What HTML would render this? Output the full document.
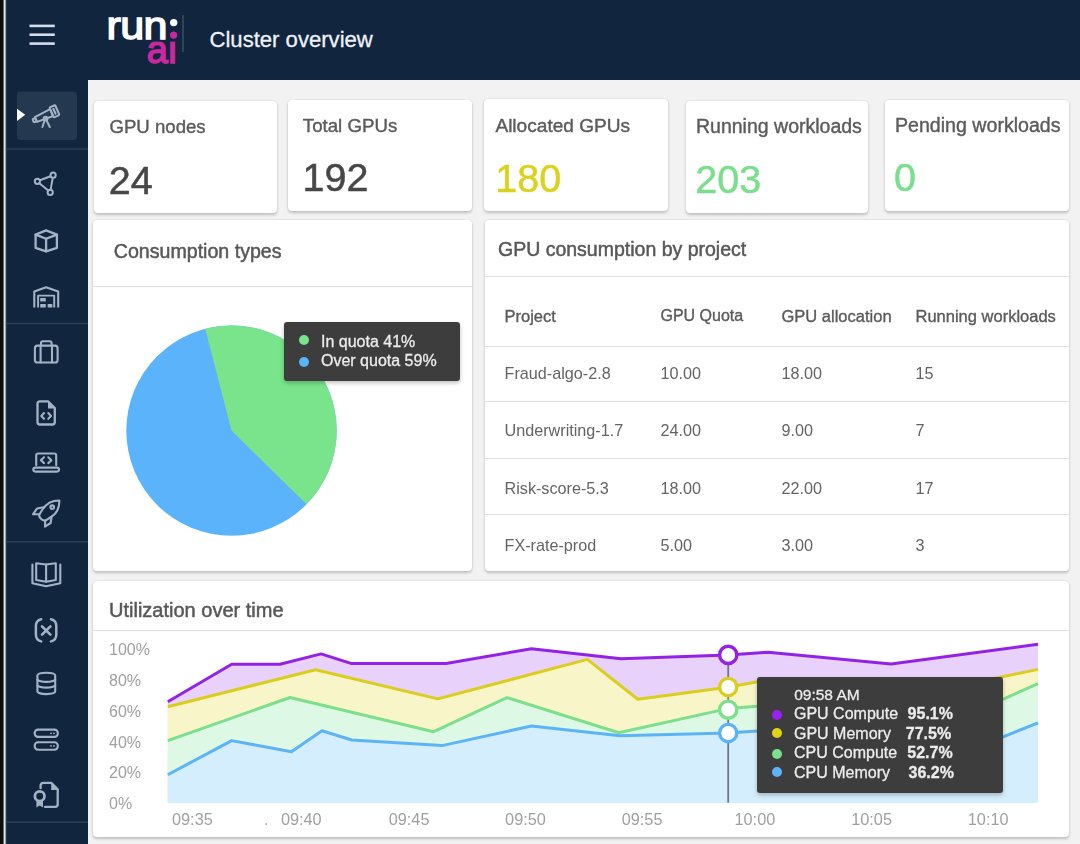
<!DOCTYPE html>
<html><head><meta charset="utf-8"><title>Cluster overview</title>
<style>
*{box-sizing:border-box;margin:0;padding:0}
html,body{width:1080px;height:844px;overflow:hidden}
body{position:relative;background:#f2f2f2;font-family:"Liberation Sans",Arial,sans-serif;color:#555}
.a{position:absolute}
.nav{background:#11253e}
.card{position:absolute;background:#fff;border-radius:4px;box-shadow:0 1.5px 3px rgba(0,0,0,.2),0 0 1.5px rgba(0,0,0,.12)}
.t{position:absolute;white-space:nowrap;line-height:1}
.lbl{color:#5b5b5b;font-size:19px;-webkit-text-stroke:.4px #5b5b5b}
.num{font-size:39.5px;color:#474747;-webkit-text-stroke:.5px currentColor}
.ttl{color:#585858;font-size:19.5px;-webkit-text-stroke:.5px #585858}
.th{color:#5a5a5a;font-size:16.5px;-webkit-text-stroke:.35px #5a5a5a}
.td{color:#646464;font-size:16.2px}
.hl{position:absolute;height:1px;background:#e2e2e2}
.ax{color:#a0a0a0;font-size:16px}
.tt{color:#ececec;font-size:16px;-webkit-text-stroke:.3px #ececec}
</style></head>
<body>
<div id="root" style="position:absolute;left:0;top:0;width:1080px;height:844px;overflow:hidden;filter:blur(0.5px)">
<!-- left window edge -->
<div class="a" style="left:0;top:0;width:3px;height:844px;background:#0e0d0a"></div>
<div class="a" style="left:3px;top:0;width:1px;height:844px;background:#6a6c70"></div>
<div class="a" style="left:4px;top:0;width:1px;height:844px;background:#dfe8f3"></div>
<div class="a" style="left:5px;top:0;width:1px;height:844px;background:#8d9bad"></div>
<div class="a" style="left:6px;top:0;width:1px;height:844px;background:#2c3b50"></div>
<!-- sidebar + header -->
<div class="a nav" style="left:7px;top:0;width:81px;height:844px"></div>
<div class="a nav" style="left:7px;top:0;width:1073px;height:80px"></div>

<!-- SIDEBAR SVG -->
<svg class="a" style="left:0;top:0" width="88" height="844" viewBox="0 0 88 844">
  <g fill="none" stroke="#d3deec" stroke-width="2.6" stroke-linecap="butt">
    <line x1="29.5" y1="25.9" x2="54.8" y2="25.9"/>
    <line x1="29.5" y1="34.7" x2="54.8" y2="34.7"/>
    <line x1="29.5" y1="43.6" x2="54.8" y2="43.6"/>
  </g>
  <!-- selected bg -->
  <rect x="17" y="91.5" width="60" height="48.5" rx="4" fill="#24384f"/>
  <polygon points="17,108.8 25.2,114.8 17,121" fill="#ffffff"/>
  <!-- dividers -->
  <g fill="#2d4159">
    <rect x="7" y="148.3" width="81" height="1.4"/>
    <rect x="7" y="322.8" width="81" height="1.4"/>
    <rect x="7" y="541.2" width="81" height="1.4"/>
    <rect x="7" y="821.4" width="81" height="1.4"/>
  </g>
  <g fill="none" stroke="#a3b3c6" stroke-width="2" stroke-linejoin="round" stroke-linecap="round">
    <!-- telescope -->
    <g transform="translate(46.5,114.8) rotate(-24)">
      <path d="M-11.5,-2.6 L5.6,-3.8 L5.6,3.8 L-11.5,2.6 Z"/>
      <rect x="-14.6" y="-1.6" width="3.1" height="3.4" rx="0.6"/>
      <rect x="5.6" y="-5.4" width="6.2" height="10.8" rx="1"/>
      <line x1="8.7" y1="-2.6" x2="8.7" y2="2.6" stroke-width="2.2"/>
    </g>
    <circle cx="45.6" cy="118.6" r="1.9"/>
    <line x1="44.6" y1="120.5" x2="42.4" y2="127"/>
    <line x1="46.6" y1="120.5" x2="49.8" y2="127"/>
    <!-- network -->
    <circle cx="37.4" cy="181.3" r="2.6"/>
    <circle cx="53.1" cy="175.2" r="2.6"/>
    <circle cx="50.2" cy="192.4" r="2.6"/>
    <line x1="39.9" y1="180.3" x2="50.6" y2="176.2"/>
    <line x1="39.3" y1="183.2" x2="48.3" y2="190.5"/>
    <line x1="52.7" y1="177.8" x2="50.6" y2="189.8"/>
    <!-- cube -->
    <polygon points="46.1,230.4 35.6,234.6 35.6,247.8 46.1,251.3 56.9,247.8 56.9,234.6" stroke-width="2.3"/>
    <polyline points="35.6,234.6 46.1,238.8 56.9,234.6" stroke-width="2.3"/>
    <line x1="46.1" y1="238.8" x2="46.1" y2="251.3" stroke-width="2.3"/>
    <!-- warehouse -->
    <polyline points="34.3,307.5 34.3,291.6 46.1,287.2 58.2,291.6 58.2,307.5" stroke-width="2.1" stroke-linecap="butt"/>
    <polyline points="38.1,307.5 38.1,295.6 54.2,295.6 54.2,307.5" stroke-width="1.9" stroke-linecap="butt"/>
  </g>
  <g fill="#a3b3c6">
    <rect x="40.2" y="298" width="5.6" height="3.4" rx=".5"/>
    <rect x="40.2" y="304" width="5.6" height="3.5" rx=".5"/>
    <rect x="47.6" y="304" width="4.8" height="3.5" rx=".5"/>
  </g>
  <g fill="none" stroke="#a3b3c6" stroke-width="2.1" stroke-linejoin="round" stroke-linecap="round">
    <!-- briefcase -->
    <rect x="34.9" y="345.6" width="22.7" height="16.9" rx="2.6"/>
    <path d="M41,345.6 V343.3 a2,2 0 0 1 2,-2 H49.6 a2,2 0 0 1 2,2 V345.6"/>
    <line x1="40.6" y1="345.6" x2="40.6" y2="362.5"/>
    <line x1="52" y1="345.6" x2="52" y2="362.5"/>
    <!-- file code -->
    <path d="M48,401.3 H40 a2.5,2.5 0 0 0 -2.5,2.5 V422 a2.5,2.5 0 0 0 2.5,2.5 H52.3 a2.5,2.5 0 0 0 2.5,-2.5 V408 Z" stroke-width="2.3"/>
    <polyline points="44,413 41.3,416 44,418.8"/>
    <polyline points="48.3,413 51,416 48.3,418.8"/>
    <!-- laptop -->
    <path d="M36.2,465.3 V455.5 a2,2 0 0 1 2,-2 H54.2 a2,2 0 0 1 2,2 V465.3"/>
    <rect x="33.3" y="467.6" width="25.7" height="4" rx="2"/>
    <polyline points="44,457.3 40.9,460.3 44,463.1"/>
    <polyline points="48.3,457.3 51.4,460.3 48.3,463.1"/>
    <!-- rocket -->
    <path d="M59.3,500.5 C52,500.5 46,504 42.5,509.5 L39.8,513.8 C38.8,515.5 39.5,517.5 41,518.8 L41.5,519.2 C43,520.5 45,520.9 46.6,519.8 L51,517 C56.5,513.5 59.6,507.5 59.3,500.5 Z"/>
    <path d="M43.6,507.3 L37,508.5 L33,514.3 L39.3,514.2"/>
    <path d="M51.6,516.8 L50.6,523 L45,526.6 L45.2,520.3"/>
    <circle cx="52.2" cy="507.2" r="1.8"/>
    <!-- book -->
    <path d="M32.4,564.5 V583.2 L46.1,586.2 L60.3,583.2 V564.5"/>
    <path d="M46.1,564.5 L36.2,563.3 V580 L46.1,581.8 L55.8,580 V563.3 Z"/>
    <line x1="46.1" y1="564.5" x2="46.1" y2="581.8"/>
    <!-- (x) -->
    <path d="M41.2,619.2 C37.5,620 35.9,622.5 35.9,626 V634.5 C35.9,638 37.5,640.5 41.2,641.4" stroke-width="2.5"/>
    <path d="M51,619.2 C54.7,620 56.3,622.5 56.3,626 V634.5 C56.3,638 54.7,640.5 51,641.4" stroke-width="2.5"/>
    <line x1="42" y1="626.3" x2="50.4" y2="634.6" stroke-width="2.6"/>
    <line x1="50.4" y1="626.3" x2="42" y2="634.6" stroke-width="2.6"/>
    <!-- database -->
    <path d="M37.4,675.5 C37.4,671.8 55.2,671.8 55.2,675.5 V691.3 C55.2,695 37.4,695 37.4,691.3 Z"/>
    <path d="M37.4,679.8 C40,682.6 52.6,682.6 55.2,679.8"/>
    <path d="M37.4,685.5 C40,688.3 52.6,688.3 55.2,685.5"/>
    <!-- server -->
    <rect x="34.7" y="729.6" width="23.1" height="7.3" rx="3.4"/>
    <rect x="34.7" y="742.2" width="23.1" height="7.5" rx="3.4"/>
    <!-- certificate -->
    <path d="M40.6,788.2 V785.5 a2.6,2.6 0 0 1 2.6,-2.6 H51.3 L57.7,789.3 V804.3 a2.6,2.6 0 0 1 -2.6,2.6 H45" stroke-width="2.3"/>
    <circle cx="39.7" cy="796.2" r="4.8" stroke-width="2.7"/>
  </g>
  <g fill="#a3b3c6">
    <polygon points="48,401 55.8,408.4 48,408.4"/>
    <polygon points="51.2,783 58.6,790 51.2,790"/>
    <polygon points="36.4,800.5 43,800.5 43,807.6 39.7,805.4 36.4,807.6"/>
    <circle cx="51" cy="733.3" r="0.9"/><circle cx="54" cy="733.3" r="0.9"/>
    <circle cx="51" cy="745.9" r="0.9"/><circle cx="54" cy="745.9" r="0.9"/>
  </g>
</svg>

<!-- HEADER: logo + title -->
<svg class="a" style="left:95px;top:0" width="110" height="80" viewBox="95 0 110 80">
  <defs><clipPath id="noidot"><rect x="95" y="41.6" width="110" height="30"/></clipPath></defs>
  <text transform="translate(106.6,39.2) scale(1.12,1)" x="0" y="0" font-family="Liberation Sans, sans-serif" font-size="38.5" fill="#ffffff" stroke="#ffffff" stroke-width="1.4" letter-spacing="-0.6">run</text>
  <circle cx="173.7" cy="22.6" r="3.7" fill="#ffffff"/>
  <circle cx="173.6" cy="35.1" r="3.6" fill="#c9289f"/>
  <g clip-path="url(#noidot)"><text x="146.8" y="63.2" font-family="Liberation Sans, sans-serif" font-size="38" fill="#c9289f" stroke="#c9289f" stroke-width="1.5" letter-spacing="0.2">ai</text></g>
  <rect x="182.3" y="15" width="1.4" height="37" fill="#3e5068"/>
</svg>
<div class="t" style="left:209.5px;top:28.5px;font-size:22.1px;color:#eef2f8;-webkit-text-stroke:.3px #eef2f8">Cluster overview</div>


<!-- STAT CARDS -->
<div class="card" style="left:93.7px;top:101px;width:183.5px;height:111.8px"></div>
<div class="card" style="left:287.6px;top:99.7px;width:184.4px;height:111.3px"></div>
<div class="card" style="left:484px;top:99.4px;width:184.1px;height:111.6px"></div>
<div class="card" style="left:685.6px;top:101.1px;width:182.8px;height:111.7px"></div>
<div class="card" style="left:885px;top:99.5px;width:183.7px;height:111.5px"></div>

<div class="t lbl" style="left:109.5px;top:117.8px;font-size:18.6px">GPU nodes</div>
<div class="t num" style="left:108.7px;top:161.3px">24</div>
<div class="t lbl" style="left:302.8px;top:116.5px;font-size:18.7px">Total GPUs</div>
<div class="t num" style="left:302.5px;top:158.4px">192</div>
<div class="t lbl" style="left:495.4px;top:116.4px;font-size:19.1px">Allocated GPUs</div>
<div class="t num" style="left:495.3px;top:158.7px;color:#dcd21c">180</div>
<div class="t lbl" style="left:696px;top:117.4px;font-size:19.5px">Running workloads</div>
<div class="t num" style="left:695.3px;top:159.6px;color:#7ade8c">203</div>
<div class="t lbl" style="left:895px;top:116.1px;font-size:19.6px">Pending workloads</div>
<div class="t num" style="left:894px;top:157.8px;color:#7ade8c">0</div>

<!-- CONSUMPTION TYPES -->
<div class="card" style="left:93px;top:220px;width:379.2px;height:350.7px"></div>
<div class="hl" style="left:93px;top:285.5px;width:379.2px"></div>
<div class="t ttl" style="left:113.8px;top:241.5px;font-size:19.6px">Consumption types</div>

<!-- GPU CONSUMPTION TABLE -->
<div class="card" style="left:485px;top:219.5px;width:583.9px;height:351.3px"></div>
<div class="hl" style="left:485px;top:275.5px;width:583.9px"></div>
<div class="t ttl" style="left:498px;top:239.8px">GPU consumption by project</div>

<!-- table -->
<div class="t th" style="left:504.5px;top:308px">Project</div>
<div class="t th" style="left:660.5px;top:308.3px;font-size:16px">GPU Quota</div>
<div class="t th" style="left:781.5px;top:308px">GPU allocation</div>
<div class="t th" style="left:915.5px;top:308px">Running workloads</div>
<div class="hl" style="left:485px;top:345.5px;width:583.9px"></div>
<div class="hl" style="left:485px;top:401px;width:583.9px"></div>
<div class="hl" style="left:485px;top:458px;width:583.9px"></div>
<div class="hl" style="left:485px;top:514px;width:583.9px"></div>
<div class="t td" style="left:504.5px;top:365.1px">Fraud-algo-2.8</div>
<div class="t td" style="left:660.5px;top:365.1px">10.00</div>
<div class="t td" style="left:781.5px;top:365.1px">18.00</div>
<div class="t td" style="left:915.5px;top:365.1px">15</div>
<div class="t td" style="left:504.5px;top:422.1px">Underwriting-1.7</div>
<div class="t td" style="left:660.5px;top:422.1px">24.00</div>
<div class="t td" style="left:781.5px;top:422.1px">9.00</div>
<div class="t td" style="left:915.5px;top:422.1px">7</div>
<div class="t td" style="left:504.5px;top:479.6px">Risk-score-5.3</div>
<div class="t td" style="left:660.5px;top:479.6px">18.00</div>
<div class="t td" style="left:781.5px;top:479.6px">22.00</div>
<div class="t td" style="left:915.5px;top:479.6px">17</div>
<div class="t td" style="left:504.5px;top:536.8px">FX-rate-prod</div>
<div class="t td" style="left:660.5px;top:536.8px">5.00</div>
<div class="t td" style="left:781.5px;top:536.8px">3.00</div>
<div class="t td" style="left:915.5px;top:536.8px">3</div>
<svg class="a" style="left:0;top:0" width="1080" height="844">
<circle cx="231.5" cy="430.6" r="105.2" fill="#5ab3fb"/>
<path d="M231.5,430.6 L205.16,328.75 A105.2,105.2 0 0 1 306.53,504.34 Z" fill="#79e48b"/>
</svg>
<div class="a" style="left:283.6px;top:322px;width:176.5px;height:59px;background:#3d3d3d;border-radius:3px;box-shadow:0 2px 4px rgba(0,0,0,.25)"></div>
<div class="a" style="left:298.9px;top:334.6px;width:10px;height:10px;border-radius:50%;background:#79e48b"></div>
<div class="a" style="left:298.9px;top:356.6px;width:10px;height:10px;border-radius:50%;background:#5ab3fb"></div>
<div class="t tt" style="left:321px;top:333.9px">In quota 41%</div>
<div class="t tt" style="left:321px;top:353.4px">Over quota 59%</div>
<!-- UTILIZATION -->
<div class="card" style="left:93px;top:581px;width:976.2px;height:256.4px"></div>
<div class="hl" style="left:93px;top:630px;width:976px"></div>
<div class="t ttl" style="left:109px;top:599.5px;font-size:20px">Utilization over time</div>
<div class="t ax" style="left:109px;top:642.1px">100%</div>
<div class="t ax" style="left:109px;top:673.2px">80%</div>
<div class="t ax" style="left:109px;top:704px">60%</div>
<div class="t ax" style="left:109px;top:734.5px">40%</div>
<div class="t ax" style="left:109px;top:765.4px">20%</div>
<div class="t ax" style="left:109px;top:796.3px">0%</div>
<div class="t ax" style="left:172.0px;top:811px;font-size:16.3px">09:35</div>
<div class="t ax" style="left:280.9px;top:811px;font-size:16.3px">09:40</div>
<div class="t ax" style="left:388.7px;top:811px;font-size:16.3px">09:45</div>
<div class="t ax" style="left:505.1px;top:811px;font-size:16.3px">09:50</div>
<div class="t ax" style="left:621.7px;top:811px;font-size:16.3px">09:55</div>
<div class="t ax" style="left:734.5px;top:811px;font-size:16.3px">10:00</div>
<div class="t ax" style="left:851.2px;top:811px;font-size:16.3px">10:05</div>
<div class="t ax" style="left:967.8px;top:811px;font-size:16.3px">10:10</div>
<div class="t ax" style="left:264px;top:811px;font-size:16.3px">.</div>
<svg class="a" style="left:0;top:0" width="1080" height="844">
<polygon points="167.8,802.7 167.8,701.7 231.7,664.2 280,664.2 321.1,653.9 351.7,663.6 446,663.6 531.4,648.7 621,658.8 727.9,654.9 768.1,652.2 891.1,664.1 1038,644.3 1038,802.7" fill="#e8d2fb"/>
<polygon points="167.8,802.7 167.8,706.7 315.6,669.7 437.8,698.9 587.3,659.4 637.8,699.2 727.9,687.3 768.1,679.8 891.1,700 1038,669.4 1038,802.7" fill="#f8f5c9"/>
<polygon points="167.8,802.7 167.8,740.6 290,697.5 433.6,731.7 507,697.6 618.8,732.8 727.9,708.6 768.1,705.3 891.1,749 1038,683.7 1038,802.7" fill="#ddf8e5"/>
<polygon points="167.8,802.7 167.8,774.7 231.7,740.6 291.4,751.7 322,730.8 351.7,740 442,745.6 531.4,726 620,735.8 727.9,733 768.1,730.2 891.1,782 1038,722.8 1038,802.7" fill="#d5eefd"/>
<polyline points="167.8,701.7 231.7,664.2 280,664.2 321.1,653.9 351.7,663.6 446,663.6 531.4,648.7 621,658.8 727.9,654.9 768.1,652.2 891.1,664.1 1038,644.3" fill="none" stroke="#9223e6" stroke-width="3" stroke-linejoin="round"/>
<polyline points="167.8,706.7 315.6,669.7 437.8,698.9 587.3,659.4 637.8,699.2 727.9,687.3 768.1,679.8 891.1,700 1038,669.4" fill="none" stroke="#dacd1d" stroke-width="3" stroke-linejoin="round"/>
<polyline points="167.8,740.6 290,697.5 433.6,731.7 507,697.6 618.8,732.8 727.9,708.6 768.1,705.3 891.1,749 1038,683.7" fill="none" stroke="#7bdf8c" stroke-width="3" stroke-linejoin="round"/>
<polyline points="167.8,774.7 231.7,740.6 291.4,751.7 322,730.8 351.7,740 442,745.6 531.4,726 620,735.8 727.9,733 768.1,730.2 891.1,782 1038,722.8" fill="none" stroke="#5cb4f6" stroke-width="3" stroke-linejoin="round"/>
<line x1="728.2" y1="655" x2="728.2" y2="802.7" stroke="#6a7889" stroke-width="1.8"/>
<circle cx="728.2" cy="654.9" r="8.6" fill="#fff" stroke="#9223e6" stroke-width="3.4"/>
<circle cx="728.2" cy="687" r="8.6" fill="#fff" stroke="#dacd1d" stroke-width="3.4"/>
<circle cx="728.2" cy="709.7" r="8.6" fill="#fff" stroke="#7bdf8c" stroke-width="3.4"/>
<circle cx="728.2" cy="733" r="8.6" fill="#fff" stroke="#5cb4f6" stroke-width="3.4"/>
</svg>
<div class="a" style="left:756.5px;top:676.5px;width:246.3px;height:116.3px;background:#3d3d3d;border-radius:3px;box-shadow:0 2px 4px rgba(0,0,0,.25)"></div>
<div class="t tt" style="left:794.2px;top:687px;font-size:15.5px">09:58 AM</div>
<div class="a" style="left:771.5px;top:709.6px;width:10.4px;height:10.4px;border-radius:50%;background:#9a22ef"></div>
<div class="t tt" style="left:794px;top:706.1px">GPU Compute</div>
<div class="t tt" style="left:907.6px;top:706.1px;font-weight:bold">95.1%</div>
<div class="a" style="left:771.5px;top:728.1px;width:10.4px;height:10.4px;border-radius:50%;background:#dfd31a"></div>
<div class="t tt" style="left:794px;top:725.7px">GPU Memory</div>
<div class="t tt" style="left:905.8px;top:725.7px;font-weight:bold">77.5%</div>
<div class="a" style="left:771.5px;top:748.5px;width:10.4px;height:10.4px;border-radius:50%;background:#7bdf8c"></div>
<div class="t tt" style="left:794px;top:744.7px">CPU Compute</div>
<div class="t tt" style="left:907.3px;top:744.7px;font-weight:bold">52.7%</div>
<div class="a" style="left:771.5px;top:767.0px;width:10.4px;height:10.4px;border-radius:50%;background:#5cb4f6"></div>
<div class="t tt" style="left:794px;top:764.8px">CPU Memory</div>
<div class="t tt" style="left:908.5px;top:764.8px;font-weight:bold">36.2%</div>
</div>
</body></html>
